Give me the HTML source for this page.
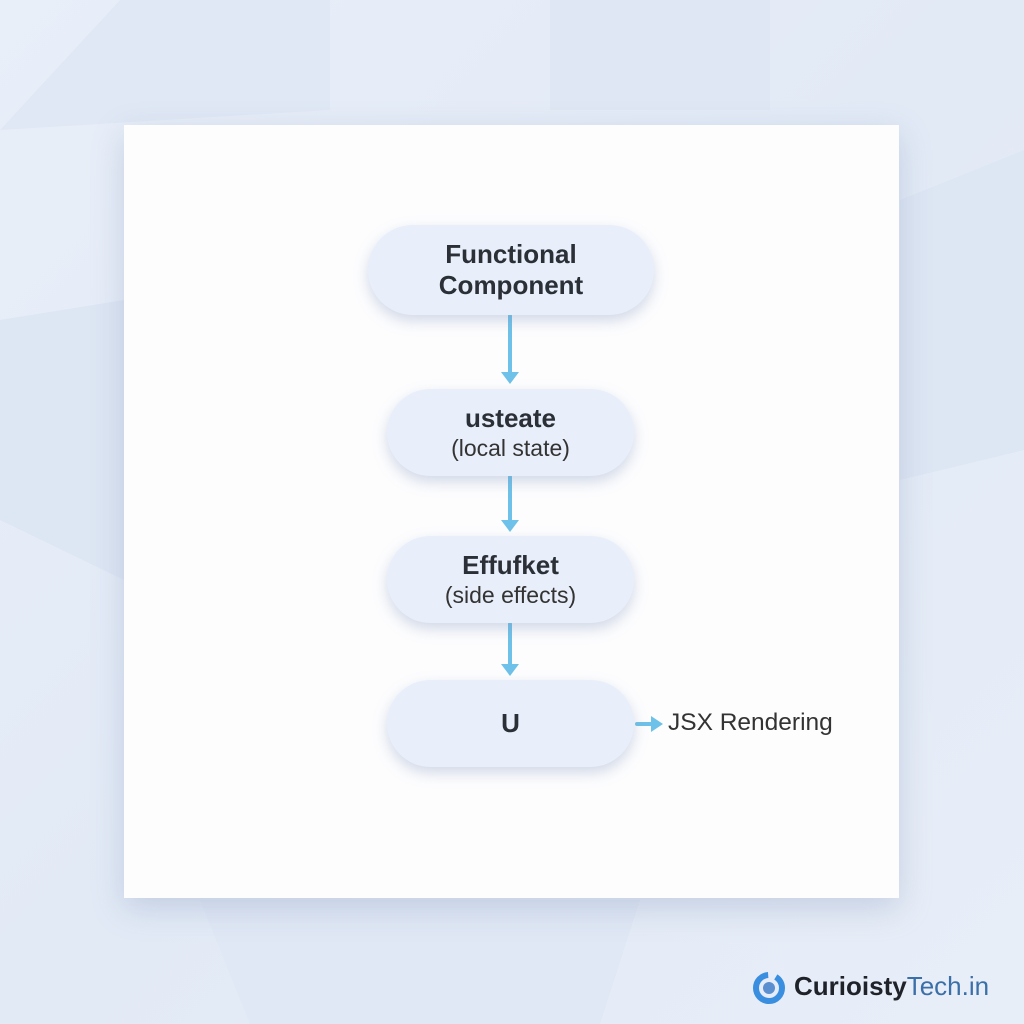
<!DOCTYPE html>
<html><head><style>
body{margin:0;width:1024px;height:1024px;overflow:hidden;background:linear-gradient(135deg,#e9eff9,#e2eaf6 50%,#e8eef8);font-family:"Liberation Sans","DejaVu Sans",sans-serif;position:relative}
.card{position:absolute;left:124px;top:125px;width:775px;height:773px;background:#fdfdfe;box-shadow:0 10px 30px rgba(120,140,180,.3)}
.node{position:absolute;background:#e8eefa;border-radius:45px;box-shadow:0 6px 14px rgba(130,150,190,.35);display:flex;flex-direction:column;align-items:center;justify-content:center;color:#2b2f36;text-align:center}
.b{font-weight:bold;font-size:26px;line-height:31px}
.n{font-size:23px;line-height:29px;color:#333}
</style></head><body>
<svg width="1024" height="1024" style="position:absolute;left:0;top:0">
<polygon points="0,130 120,0 330,0 330,110" fill="#e0e8f5"/>
<polygon points="550,0 770,0 770,110 550,110" fill="#dfe7f4"/>
<polygon points="900,200 1024,150 1024,450 900,480" fill="#dde6f3"/>
<polygon points="0,320 124,300 124,580 0,520" fill="#dde6f3"/>
<polygon points="200,900 640,900 600,1024 250,1024" fill="#e0e8f5"/>
</svg>
<div class="card"></div>
<svg width="1024" height="1024" style="position:absolute;left:0;top:0">
<g stroke="#6ec1e8" stroke-width="4" fill="none" stroke-linecap="round">
<line x1="510" y1="316" x2="510" y2="376"/>
<line x1="510" y1="477" x2="510" y2="524"/>
<line x1="510" y1="624" x2="510" y2="668"/>
<line x1="637" y1="724" x2="654" y2="724"/>
</g>
<g fill="#6ec1e8">
<polygon points="501,372 519,372 510,384"/>
<polygon points="501,520 519,520 510,532"/>
<polygon points="501,664 519,664 510,676"/>
<polygon points="651,716 651,732 663,724"/>
</g>
</svg>
<div class="node" style="left:368px;top:225px;width:286px;height:90px"><div class="b">Functional<br>Component</div></div>
<div class="node" style="left:387px;top:389px;width:247px;height:87px"><div class="b">usteate</div><div class="n">(local state)</div></div>
<div class="node" style="left:387px;top:536px;width:247px;height:87px"><div class="b">Effufket</div><div class="n">(side effects)</div></div>
<div class="node" style="left:387px;top:680px;width:247px;height:87px"><div class="b">U</div></div>
<div style="position:absolute;left:668px;top:709px;font-size:24.5px;color:#333">JSX Rendering</div>
<svg width="36" height="36" style="position:absolute;left:751px;top:970px">
<circle cx="18" cy="18" r="13" fill="none" stroke="#3a8ee0" stroke-width="6" stroke-dasharray="60 8"/>
<circle cx="18" cy="18" r="6" fill="#5b8fd0"/>
</svg>
<div style="position:absolute;left:794px;top:971px;font-size:26px;font-weight:bold;color:#1f2329">Curioisty<span style="font-weight:normal;color:#3b6fa8">Tech.in</span></div>
</body></html>
